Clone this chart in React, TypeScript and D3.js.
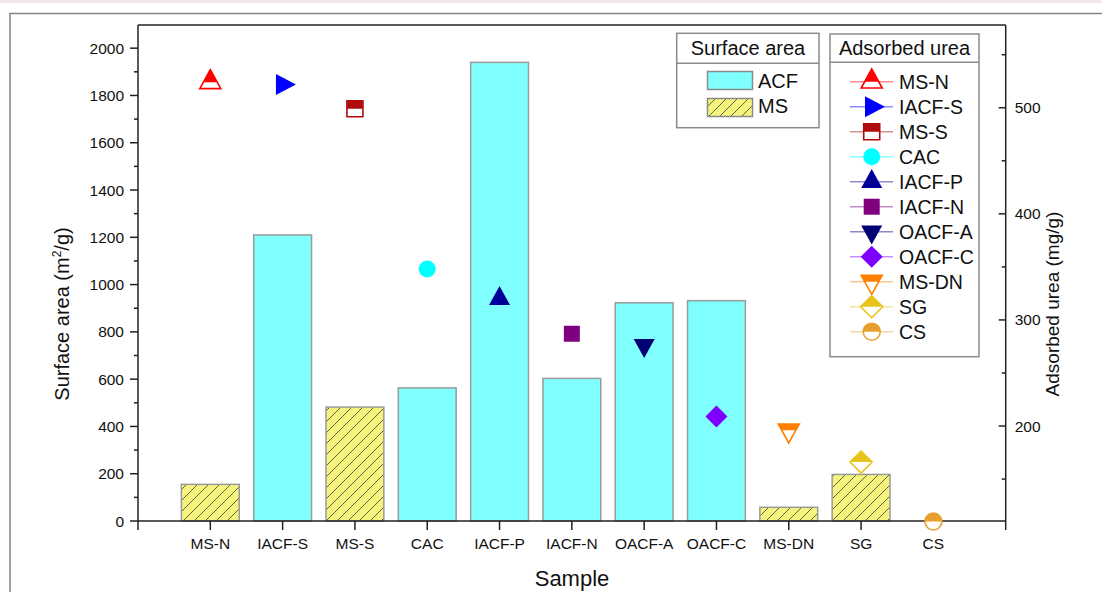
import * as d3 from 'd3'

const samples = ['MS-N', 'IACF-S', 'MS-S', 'CAC', 'IACF-P', 'IACF-N', 'OACF-A', 'OACF-C', 'MS-DN', 'SG', 'CS']
const surfaceArea = [155, 1210, 482, 563, 1940, 603, 923, 932, 58, 197, null]
const barGroup = ['MS', 'ACF', 'MS', 'ACF', 'ACF', 'ACF', 'ACF', 'ACF', 'MS', 'MS', null]
const adsorbedUrea = [524, 522, 499, 348, 320, 287, 276, 209, 196, 166, 110]
const markerShapes = ['up', 'right', 'square', 'circle', 'up', 'square', 'down', 'diamond', 'down', 'diamond', 'circle']
const markerHalf = [true, false, true, false, false, false, false, false, true, true, true]
const markerColors = ['#ff0000', '#0000ff', '#b00c0c', '#00ffff', '#000099', '#800080', '#000075', '#8000ff', '#ff8000', '#e6c41a', '#e6a02e']

const barGroups = ['ACF', 'MS']
const leftTicks = [0, 200, 400, 600, 800, 1000, 1200, 1400, 1600, 1800, 2000]
const rightTicks = [200, 300, 400, 500]

const FONT = '"Liberation Sans", Arial, sans-serif'
const plot = { left: 138, right: 1005.7, top: 25, bottom: 530 }

const markerPath = (shape) => {
    switch (shape) {
        case 'up':
            return 'M0,-12.7L10.5,6.3L-10.5,6.3Z'
        case 'down':
            return 'M0,12.7L10.5,-6.3L-10.5,-6.3Z'
        case 'right':
            return 'M13.3,0L-6.7,-10.5L-6.7,10.5Z'
        case 'square':
            return 'M-8,-8h16v16h-16Z'
        case 'diamond':
            return 'M0,-11L11,0L0,11L-11,0Z'
        default: {
            const p = d3.path()
            p.arc(0, 0, 8.5, 0, Math.PI * 2)
            p.closePath()
            return p.toString()
        }
    }
}

const Marker = ({ x, y, shape, color, half }) => {
    const d = markerPath(shape)
    return (
        <g transform={`translate(${x},${y})`}>
            {half ? (
                <>
                    <path d={d} fill="#fff" />
                    <path d={d} fill={color} clipPath="url(#halfTop)" />
                    <path d={d} fill="none" stroke={color} strokeWidth="1.6" />
                </>
            ) : (
                <path d={d} fill={color} />
            )}
        </g>
    )
}

export default function App() {
    const x = d3.scaleLinear().domain([0, 12]).range([plot.left, plot.right])
    const yLeft = d3.scaleLinear().domain([-38, 2098]).range([plot.bottom, plot.top])
    const yRight = d3.scaleLinear().domain([102, 578]).range([plot.bottom, plot.top])
    const step = x(1) - x(0)
    const barW = step * 0.8
    const y0 = yLeft(0)
    const leftMinor = leftTicks.slice(0, -1).map((t) => t + 100)
    const rightMinor = [150, 250, 350, 450, 550]
    const axisColor = '#222'

    return (
        <svg width={1102} height={592} style={{ position: 'absolute', left: 0, top: 0 }} fontFamily={FONT}>
            <defs>
                <clipPath id="halfTop">
                    <rect x={-30} y={-30} width={60} height={30} />
                </clipPath>
                <pattern id="hatch" patternUnits="userSpaceOnUse" width="11" height="11">
                    <rect width="11" height="11" fill="#f5f57d" />
                    <path d="M0,11L11,0M-2,2L2,-2M9,13L13,9" stroke="#3a3a3a" strokeWidth="0.8" />
                </pattern>
            </defs>
            <rect x={0} y={0} width={1102} height={592} fill="#fff" />
            <rect x={0} y={0} width={1102} height={3} fill="#f4e4ec" />
            <rect x={10} y={13.5} width={1200} height={700} fill="none" stroke="#858585" strokeWidth="1.5" />

            {/* bars */}
            {surfaceArea.map((v, i) =>
                v == null ? null : (
                    <rect
                        key={samples[i]}
                        x={x(i + 1) - barW / 2}
                        y={yLeft(v)}
                        width={barW}
                        height={y0 - yLeft(v)}
                        fill={barGroup[i] === 'ACF' ? '#80ffff' : 'url(#hatch)'}
                        stroke="#9a9a9a"
                        strokeWidth="1.5"
                    />
                )
            )}

            {/* frame and axes */}
            <line x1={plot.left} x2={plot.right} y1={plot.top} y2={plot.top} stroke={axisColor} strokeWidth="1.5" />
            <line x1={plot.left} x2={plot.left} y1={plot.top} y2={plot.bottom} stroke={axisColor} strokeWidth="1.5" />
            <line x1={plot.right} x2={plot.right} y1={plot.top} y2={plot.bottom} stroke={axisColor} strokeWidth="1.5" />
            <line x1={plot.left} x2={plot.right} y1={y0} y2={y0} stroke={axisColor} strokeWidth="1.5" />

            {leftTicks.map((t) => (
                <g key={t}>
                    <line x1={plot.left - 8} x2={plot.left} y1={yLeft(t)} y2={yLeft(t)} stroke={axisColor} strokeWidth="1.5" />
                    <text x={plot.left - 14} y={yLeft(t) + 5.5} textAnchor="end" fontSize="15.5" fill="#111">
                        {t}
                    </text>
                </g>
            ))}
            {leftMinor.map((t) => (
                <line key={t} x1={plot.left - 4} x2={plot.left} y1={yLeft(t)} y2={yLeft(t)} stroke={axisColor} strokeWidth="1.5" />
            ))}
            {rightTicks.map((t) => (
                <g key={t}>
                    <line x1={plot.right - 7} x2={plot.right} y1={yRight(t)} y2={yRight(t)} stroke={axisColor} strokeWidth="1.5" />
                    <text x={plot.right + 9} y={yRight(t) + 5.5} fontSize="15.5" fill="#111">
                        {t}
                    </text>
                </g>
            ))}
            {rightMinor.map((t) => (
                <line key={t} x1={plot.right - 4} x2={plot.right} y1={yRight(t)} y2={yRight(t)} stroke={axisColor} strokeWidth="1.5" />
            ))}
            {samples.map((s, i) => (
                <g key={s}>
                    <line x1={x(i + 1)} x2={x(i + 1)} y1={y0} y2={y0 + 9} stroke={axisColor} strokeWidth="1.5" />
                    <text x={x(i + 1)} y={y0 + 28} textAnchor="middle" fontSize="15.5" fill="#111">
                        {s}
                    </text>
                </g>
            ))}

            {/* axis titles */}
            <text x={572} y={586} textAnchor="middle" fontSize="22" fill="#111">
                Sample
            </text>
            <text transform={`translate(69,314) rotate(-90)`} textAnchor="middle" fontSize="20" fill="#111">
                Surface area (m<tspan dy="-8" fontSize="12">2</tspan>
                <tspan dy="8">/g)</tspan>
            </text>
            <text transform={`translate(1059,304) rotate(-90)`} textAnchor="middle" fontSize="19" fill="#111">
                Adsorbed urea (mg/g)
            </text>

            {/* markers */}
            {adsorbedUrea.map((v, i) => (
                <Marker
                    key={samples[i]}
                    x={x(i + 1)}
                    y={yRight(v)}
                    shape={markerShapes[i]}
                    color={markerColors[i]}
                    half={markerHalf[i]}
                />
            ))}

            {/* legend: surface area */}
            <g>
                <rect x={676.7} y={33.3} width={142.3} height={94.4} fill="#fff" stroke="#8a8a8a" strokeWidth="1.5" />
                <line x1={676.7} x2={819} y1={63.3} y2={63.3} stroke="#8a8a8a" strokeWidth="1.5" />
                <text x={748} y={55} textAnchor="middle" fontSize="20" fill="#111">
                    Surface area
                </text>
                {barGroups.map((g, k) => (
                    <g key={g}>
                        <rect
                            x={707.5}
                            y={71.5 + k * 27}
                            width={45}
                            height={18}
                            fill={g === 'ACF' ? '#80ffff' : 'url(#hatch)'}
                            stroke="#8a8a8a"
                            strokeWidth="1.5"
                        />
                        <text x={758} y={87.5 + k * 25} fontSize="20" fill="#111">
                            {g}
                        </text>
                    </g>
                ))}
            </g>

            {/* legend: adsorbed urea */}
            <g>
                <rect x={830} y={34} width={149} height={322.7} fill="#fff" stroke="#8a8a8a" strokeWidth="1.5" />
                <line x1={830} x2={979} y1={62.3} y2={62.3} stroke="#8a8a8a" strokeWidth="1.5" />
                <text x={904.5} y={55} textAnchor="middle" fontSize="20" fill="#111">
                    Adsorbed urea
                </text>
                {samples.map((s, k) => {
                    const cy = 81.7 + k * 25
                    return (
                        <g key={s}>
                            <line x1={850} x2={893} y1={cy} y2={cy} stroke={markerColors[k]} strokeOpacity="0.45" strokeWidth="1.5" />
                            <Marker x={871.7} y={cy} shape={markerShapes[k]} color={markerColors[k]} half={markerHalf[k]} />
                            <text x={899} y={cy + 7} fontSize="19.5" fill="#111">
                                {s}
                            </text>
                        </g>
                    )
                })}
            </g>
        </svg>
    )
}
